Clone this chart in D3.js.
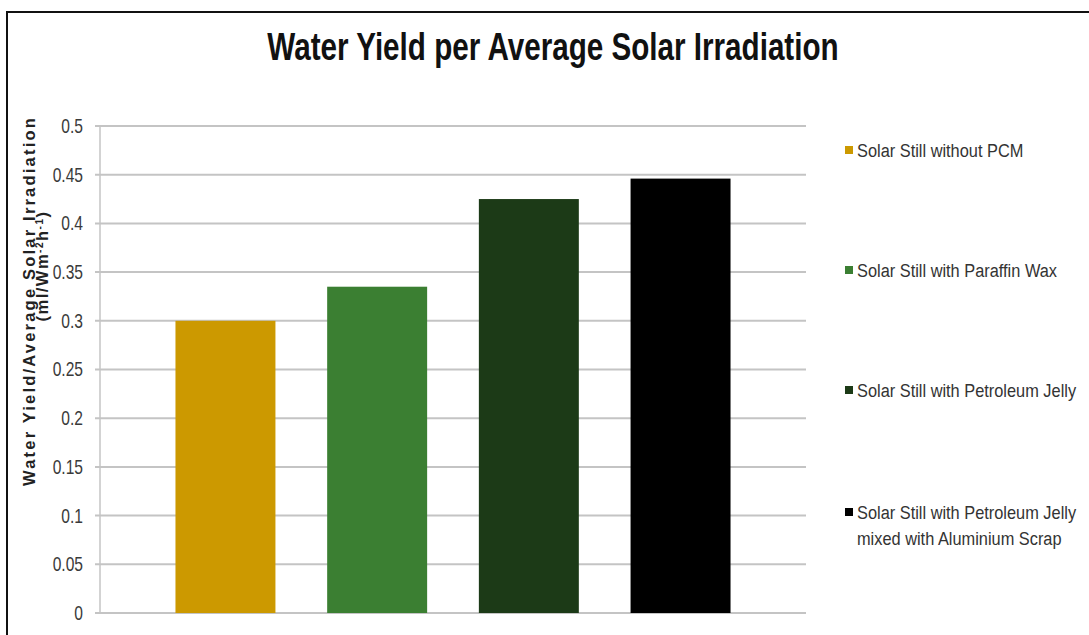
<!DOCTYPE html>
<html>
<head>
<meta charset="utf-8">
<script src="https://cdn.jsdelivr.net/npm/d3@7/dist/d3.min.js"></script>
<style>
  html, body { margin: 0; padding: 0; background: #fff; }
  svg { display: block; }
  text { font-family: "Liberation Sans", Arial, sans-serif; }
</style>
</head>
<body>
<svg id="chart" width="1089" height="635"></svg>
<script>
// Series shown as a single cluster of bars
const seriesNames = [
  "Solar Still without PCM",
  "Solar Still with Paraffin Wax",
  "Solar Still with Petroleum Jelly",
  "Solar Still with Petroleum Jelly mixed with Aluminium Scrap"
];
const legendLines = [
  ["Solar Still without PCM"],
  ["Solar Still with Paraffin Wax"],
  ["Solar Still with Petroleum Jelly"],
  ["Solar Still with Petroleum Jelly", "mixed with Aluminium Scrap"]
];
const yieldValues = [0.30, 0.335, 0.425, 0.446];
const seriesColors = ["#cc9900", "#3b7f32", "#1c3a17", "#000000"];
const yTicks = [0, 0.05, 0.1, 0.15, 0.2, 0.25, 0.3, 0.35, 0.4, 0.45, 0.5];
const yTickLabels = ["0", "0.05", "0.1", "0.15", "0.2", "0.25", "0.3", "0.35", "0.4", "0.45", "0.5"];

const svg = d3.select("#chart");

// squeeze a text horizontally around its own x anchor (narrow face look)
function condense(sel, f) {
  sel.each(function () {
    const t = d3.select(this);
    const ax = +t.attr("x") || 0;
    t.attr("transform", `translate(${ax},0) scale(${f},1) translate(${-ax},0)`);
  });
}

// outer frame
svg.append("rect")
  .attr("x", 7).attr("y", 12)
  .attr("width", 1100).attr("height", 660)
  .attr("fill", "none").attr("stroke", "#111").attr("stroke-width", 2);

const plot = { left: 100, right: 806, top: 126, bottom: 613 };

const y = d3.scaleLinear().domain([0, 0.5]).range([plot.bottom, plot.top]);
const x = d3.scaleBand()
  .domain(seriesNames)
  .range([plot.left, plot.right])
  .paddingInner(0.341)
  .paddingOuter(0.4975);

// gridlines
svg.append("g")
  .selectAll("line")
  .data(yTicks)
  .join("line")
  .attr("x1", plot.left - 5).attr("x2", plot.right)
  .attr("y1", d => y(d)).attr("y2", d => y(d))
  .attr("stroke", "#c4c4c4").attr("stroke-width", 2);

// y axis line
svg.append("line")
  .attr("x1", plot.left).attr("x2", plot.left)
  .attr("y1", plot.top).attr("y2", plot.bottom)
  .attr("stroke", "#c4c4c4").attr("stroke-width", 1.5);

// y tick labels
const yAxis = d3.axisLeft(y).tickValues(yTicks)
  .tickFormat((d, i) => yTickLabels[i]).tickSize(0).tickPadding(17);
const gy = svg.append("g").attr("transform", `translate(${plot.left},0)`).call(yAxis);
gy.select(".domain").remove();
gy.selectAll("text")
  .attr("font-size", 20).attr("fill", "#3a3a3a")
  .style("font-family", '"Liberation Sans", Arial, sans-serif')
  .call(condense, 0.78);

// bars
svg.append("g")
  .selectAll("rect")
  .data(yieldValues)
  .join("rect")
  .attr("x", (d, i) => x(seriesNames[i]))
  .attr("width", x.bandwidth())
  .attr("y", d => y(d))
  .attr("height", d => y(0) - y(d))
  .attr("fill", (d, i) => seriesColors[i]);

// title
svg.append("text")
  .attr("x", 553).attr("y", 60)
  .attr("text-anchor", "middle")
  .attr("font-size", 38).attr("font-weight", "bold").attr("fill", "#111")
  .text("Water Yield per Average Solar Irradiation")
  .call(condense, 0.78);

// y axis title (two rotated lines)
svg.append("text")
  .attr("transform", "translate(35,301) rotate(-90)")
  .attr("text-anchor", "middle")
  .attr("font-size", 16.5).attr("font-weight", "bold").attr("fill", "#222")
  .attr("letter-spacing", 2.2)
  .text("Water Yield/Average Solar Irradiation");
const yt2 = svg.append("text")
  .attr("transform", "translate(48,266) rotate(-90)")
  .attr("text-anchor", "middle")
  .attr("font-size", 16.5).attr("font-weight", "bold").attr("fill", "#222")
  .attr("letter-spacing", 1.5);
yt2.append("tspan").text("(ml/Wm");
yt2.append("tspan").attr("baseline-shift", "super").attr("font-size", 10).text("-2");
yt2.append("tspan").text("h");
yt2.append("tspan").attr("baseline-shift", "super").attr("font-size", 10).text("-1");
yt2.append("tspan").text(")");

// legend
const legendY = [150, 270, 390, 512];
const lg = svg.append("g");
legendLines.forEach((lines, i) => {
  lg.append("rect")
    .attr("x", 845).attr("y", legendY[i] - 4)
    .attr("width", 8).attr("height", 8)
    .attr("fill", seriesColors[i]);
  lines.forEach((ln, j) => {
    lg.append("text")
      .attr("x", 857).attr("y", legendY[i] + 7 + j * 26)
      .attr("font-size", 18.5).attr("fill", "#333")
      .text(ln)
      .call(condense, 0.885);
  });
});
</script>
</body>
</html>
